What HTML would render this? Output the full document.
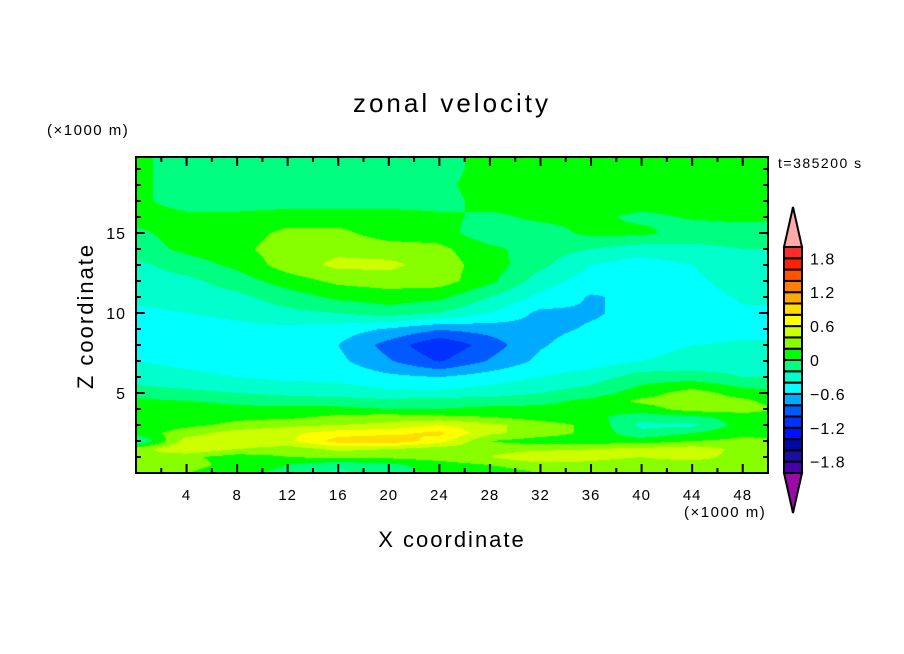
<!DOCTYPE html>
<html><head><meta charset="utf-8"><style>
html,body{margin:0;padding:0;background:#fff;}
#wrap{position:relative;width:904px;height:654px;overflow:hidden;}
canvas{position:absolute;left:136px;top:157px;}
svg{position:absolute;left:0;top:0;}
text{font-family:"Liberation Sans",sans-serif;fill:#000;}
</style></head><body>
<div id="wrap">
<canvas id="cv" width="632" height="316"></canvas>
<svg id="sv" width="904" height="654"></svg>
</div>
<script>
// ---- data ----
const xGrid = [0,4,8,12,16,20,24,28,32,36,40,44,48,52];
const zGrid = [20,19,18,17,16,15,14,13,12,11,10,9,8,7,6,5,4.5,4,3.5,3,2.5,2,1.5,1,0.5,0];
const uRow20 = [0.05,-0.1,-0.1,-0.1,-0.1,-0.1,-0.1,0.1,0.1,0.1,0.1,0.1,0.1,0.1];
const uRow19 = [0.05,-0.1,-0.1,-0.1,-0.1,-0.1,-0.1,0.1,0.1,0.1,0.1,0.1,0.1,0.1];
const uRow18 = [0.05,-0.1,-0.1,-0.1,-0.1,-0.1,-0.05,0.1,0.1,0.1,0.1,0.1,0.1,0.1];
const uRow17 = [0.05,-0.1,-0.1,-0.1,-0.1,-0.1,-0.1,0.1,0.1,0.1,0.1,0.1,0.1,0.1];
const uRow16 = [0.1,0.05,0.05,0.1,0.1,0.1,0.05,-0.05,0.05,0.05,-0.05,0.02,0.05,0.02];
const uRow15 = [-0.05,0.1,0.1,0.25,0.25,0.1,0.1,-0.15,-0.1,0.05,0.05,-0.1,-0.1,-0.1];
const uRow14 = [-0.1,0.05,0.15,0.3,0.35,0.3,0.25,0.05,-0.1,-0.2,-0.3,-0.25,-0.2,-0.2];
const uRow13 = [-0.25,-0.1,0.05,0.3,0.45,0.45,0.3,0.1,-0.15,-0.4,-0.5,-0.4,-0.25,-0.25];
const uRow12 = [-0.3,-0.25,-0.1,0.1,0.25,0.3,0.3,0.05,-0.3,-0.5,-0.55,-0.45,-0.3,-0.3];
const uRow11 = [-0.35,-0.3,-0.25,-0.1,0.05,0.1,0.05,-0.2,-0.45,-0.62,-0.55,-0.48,-0.38,-0.38];
const uRow10 = [-0.45,-0.4,-0.35,-0.25,-0.2,-0.1,-0.2,-0.4,-0.65,-0.62,-0.55,-0.5,-0.42,-0.42];
const uRow9  = [-0.5,-0.5,-0.45,-0.45,-0.5,-0.62,-0.78,-0.72,-0.65,-0.58,-0.55,-0.5,-0.44,-0.44];
const uRow8  = [-0.45,-0.5,-0.5,-0.5,-0.6,-0.88,-1.18,-0.9,-0.62,-0.5,-0.45,-0.4,-0.38,-0.38];
const uRow7  = [-0.4,-0.45,-0.5,-0.5,-0.55,-0.78,-1.02,-0.78,-0.55,-0.5,-0.4,-0.35,-0.3,-0.3];
const uRow6  = [-0.3,-0.35,-0.4,-0.45,-0.45,-0.55,-0.6,-0.5,-0.4,-0.3,-0.1,-0.1,-0.2,-0.2];
const uRow5  = [-0.1,-0.15,-0.2,-0.25,-0.3,-0.35,-0.35,-0.3,-0.2,-0.1,0.1,0.3,0.1,0.0];
const uRow4h = [0.05,0.0,-0.05,-0.1,-0.1,-0.15,-0.1,-0.1,-0.05,0.05,0.25,0.3,0.25,0.05];
const uRow4  = [0.1,0.1,0.05,0.05,0.05,0.0,0.0,0.05,0.05,0.05,0.1,0.3,0.3,0.15];
const uRow3h = [0.05,0.1,0.15,0.15,0.25,0.3,0.25,0.2,0.1,0.05,-0.1,-0.05,0.1,0.1];
const uRow3  = [0.05,0.15,0.25,0.35,0.4,0.45,0.6,0.45,0.3,0.15,-0.25,-0.25,0.1,0.1];
const uRow2h = [0.1,0.3,0.5,0.55,0.7,0.75,0.85,0.45,0.3,0.15,-0.15,0.0,0.15,0.15];
const uRow2  = [-0.25,0.5,0.6,0.55,0.9,0.95,0.7,0.2,0.1,0.1,0.1,0.2,0.25,0.2];
const uRow1h = [0.3,0.6,0.4,0.3,0.45,0.4,0.3,0.3,0.35,0.4,0.45,0.5,0.35,0.3];
const uRow1  = [0.4,0.25,0.1,0.2,0.25,0.25,0.3,0.4,0.6,0.45,0.4,0.5,0.3,0.2];
const uRow0h = [0.35,0.3,0.1,0.0,-0.15,-0.05,0.1,0.2,0.3,0.35,0.3,0.25,0.3,0.3];
const uRow0  = [0.3,0.2,0.05,-0.05,-0.25,-0.1,0.05,0.1,0.2,0.3,0.25,0.2,0.4,0.4];
const uRows = [uRow20,uRow19,uRow18,uRow17,uRow16,uRow15,uRow14,uRow13,uRow12,uRow11,uRow10,uRow9,uRow8,uRow7,uRow6,uRow5,uRow4h,uRow4,uRow3h,uRow3,uRow2h,uRow2,uRow1h,uRow1,uRow0h,uRow0];
const levels = [-2,-1.8,-1.6,-1.4,-1.2,-1,-0.8,-0.6,-0.4,-0.2,0,0.2,0.4,0.6,0.8,1,1.2,1.4,1.6,1.8,2];
const levelLabels = ["1.8","1.2","0.6","0","\u22120.6","\u22121.2","\u22121.8"];
const labelValues = [1.8,1.2,0.6,0,-0.6,-1.2,-1.8];
const colors = ["#9a0aa8","#4a00a8","#1a0fa0","#0008a8","#0010ff","#0032ff","#005aff","#00aaff","#00ffff","#00ffcc","#00ff80","#00ff00","#88ff00","#ccff00","#ffff00","#ffdd00","#ffaa00","#ff8000","#ff5500","#ff2200","#ff2a2a","#ffaaaa"];
const xTicks = [4,8,12,16,20,24,28,32,36,40,44,48];
const zTicks = [5,10,15];

// ---- axes ----
const PX0=136, PX1=768, PY0=157, PY1=473;
const X0=0, X1=50, Z0=0, Z1=19.75;
const sx = v => PX0 + (v-X0)/(X1-X0)*(PX1-PX0);
const sz = v => PY1 - (v-Z0)/(Z1-Z0)*(PY1-PY0);
const CB0=247, CB1=473;
const sc = v => CB1 - (v+2)/4*(CB1-CB0);

function interp(x,z){
  let i=0; while(i<xGrid.length-2 && x>xGrid[i+1]) i++;
  let j=0; while(j<zGrid.length-2 && z<zGrid[j+1]) j++;
  const tx=(x-xGrid[i])/(xGrid[i+1]-xGrid[i]);
  const tz=(zGrid[j]-z)/(zGrid[j]-zGrid[j+1]);
  const a=uRows[j][i], b=uRows[j][i+1], c=uRows[j+1][i], d=uRows[j+1][i+1];
  return (a*(1-tx)+b*tx)*(1-tz)+(c*(1-tx)+d*tx)*tz;
}
function colorFor(v){
  let k=0; while(k<levels.length && v>=levels[k]) k++;
  return colors[k];
}
const cv=document.getElementById('cv'), ctx=cv.getContext('2d');
const W=cv.width, H=cv.height;
for(let py=0;py<H;py++){
  for(let px=0;px<W;px++){
    const x = X0+(px+0.5)/W*(X1-X0);
    const z = Z1-(py+0.5)/H*(Z1-Z0);
    ctx.fillStyle=colorFor(interp(x,z));
    ctx.fillRect(px,py,1,1);
  }
}

// ---- svg overlay ----
const NS='http://www.w3.org/2000/svg';
const sv=document.getElementById('sv');
function mk(tag,attrs,txt){const e=document.createElementNS(NS,tag);for(const k in attrs)e.setAttribute(k,attrs[k]);if(txt!==undefined)e.textContent=txt;sv.appendChild(e);return e;}

let e=mk('rect',{x:PX0,y:PY0,width:PX1-PX0,height:PY1-PY0,fill:'none',stroke:'#000','stroke-width':2});



for(let v=2; v<50; v+=2){
  const major = v%4===0, L = major?9:5, X=sx(v);
  e=mk('line',{x1:X,y1:PY1,x2:X,y2:PY1-L,stroke:'#000','stroke-width':2});
  
  
  e=mk('line',{x1:X,y1:PY0,x2:X,y2:PY0+L,stroke:'#000','stroke-width':2});
  
  
}
xTicks.forEach(v=>{
  e=mk('text',{x:sx(v),y:500,'font-size':15,'text-anchor':'middle','letter-spacing':1},String(v));
  
  
});
for(let v=1; v<20; v++){
  const major=v%5===0, L=major?9:5, Y=sz(v);
  e=mk('line',{x1:PX0,y1:Y,x2:PX0+L,y2:Y,stroke:'#000','stroke-width':2});
  
  
  e=mk('line',{x1:PX1,y1:Y,x2:PX1-L,y2:Y,stroke:'#000','stroke-width':2});
  
  
}
zTicks.forEach(v=>{
  e=mk('text',{x:126,y:sz(v)+6,'font-size':16,'text-anchor':'end','letter-spacing':1},String(v));
  
  
});

e=mk('text',{x:452,y:112,'font-size':26,'text-anchor':'middle','letter-spacing':3},'zonal velocity');


e=mk('text',{x:47,y:135,'font-size':15,'letter-spacing':1.5},'(\u00d71000 m)');


e=mk('text',{x:684,y:517,'font-size':15,'letter-spacing':1.5},'(\u00d71000 m)');


e=mk('text',{x:452,y:547,'font-size':22,'text-anchor':'middle','letter-spacing':2},'X coordinate');


e=mk('text',{x:0,y:0,'font-size':22,'text-anchor':'middle','letter-spacing':2,transform:'translate(93,316) rotate(-90)'},'Z coordinate');


e=mk('text',{x:778,y:168,'font-size':14,'letter-spacing':1.5},'t=385200 s');



// colorbar
const CBX=784, CBW=18;
for(let k=0;k<levels.length-1;k++){
  const y1=sc(levels[k+1]), y2=sc(levels[k]);
  e=mk('rect',{x:CBX,y:y1,width:CBW,height:y2-y1,fill:colors[k+1],stroke:'#000','stroke-width':2});
  
  
}
e=mk('polygon',{points:`${CBX},${CB0} ${CBX+CBW},${CB0} ${CBX+CBW/2},${CB0-40}`,fill:colors[colors.length-1],stroke:'#000','stroke-width':2});


e=mk('polygon',{points:`${CBX},${CB1} ${CBX+CBW},${CB1} ${CBX+CBW/2},${CB1+40}`,fill:colors[0],stroke:'#000','stroke-width':2});


labelValues.forEach((v,i)=>{
  e=mk('text',{x:810,y:sc(v)+6,'font-size':16,'letter-spacing':1},levelLabels[i]);
  
  
});
</script>
</body></html>
